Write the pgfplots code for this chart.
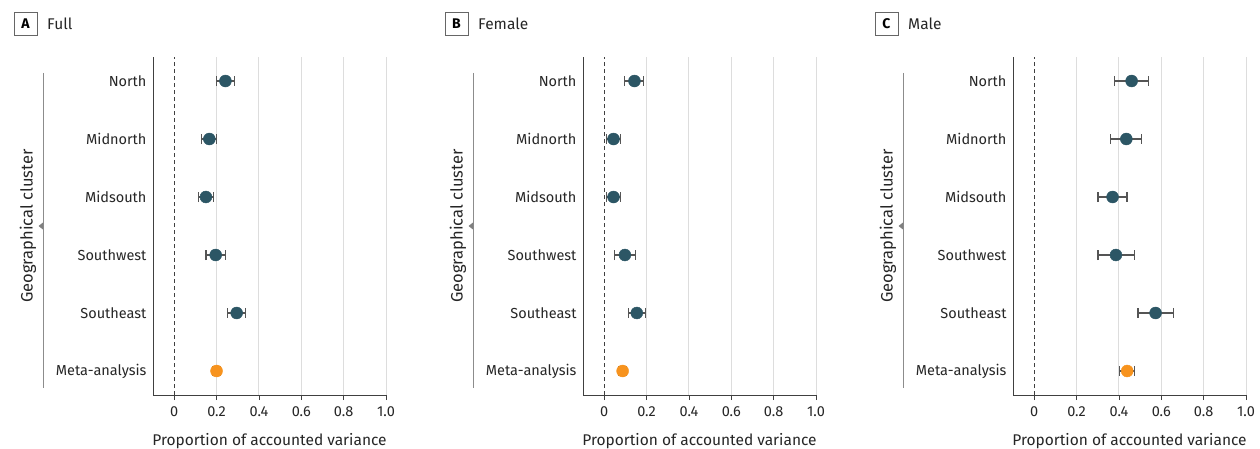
\documentclass[border=0pt]{standalone}
\usepackage{fontspec}
\setmainfont{Fira Sans}
\usepackage{pgfplots}
\usepackage{pgfplotstable}
\pgfplotsset{compat=1.18}
\definecolor{teal}{HTML}{2C5665}
\definecolor{orng}{HTML}{F7931E}
\definecolor{ebar}{HTML}{555555}
\definecolor{gridc}{HTML}{DDDDDD}

% y: North=5 ... Meta-analysis=0 ; x = estimate, lo/hi = interval
\pgfplotstableread{
y x lo hi
5 0.242 0.200 0.286
4 0.166 0.130 0.200
3 0.150 0.115 0.185
2 0.196 0.150 0.243
1 0.295 0.253 0.336
}\fullreg
\pgfplotstableread{
y x lo hi
0 0.200 0.183 0.220
}\fullmeta
\pgfplotstableread{
y x lo hi
5 0.143 0.096 0.187
4 0.044 0.011 0.079
3 0.044 0.009 0.079
2 0.098 0.049 0.148
1 0.154 0.115 0.195
}\femreg
\pgfplotstableread{
y x lo hi
0 0.087 0.069 0.105
}\femmeta
\pgfplotstableread{
y x lo hi
5 0.460 0.381 0.540
4 0.435 0.361 0.507
3 0.370 0.301 0.438
2 0.386 0.301 0.474
1 0.573 0.490 0.657
}\malereg
\pgfplotstableread{
y x lo hi
0 0.439 0.403 0.474
}\malemeta

\pgfplotsset{
  panel/.style={
    anchor=south west, scale only axis, width=233pt, height=338pt,
    xmin=-0.1, xmax=1.0, ymin=-0.414, ymax=5.414,
    axis x line*=bottom, axis y line*=left,
    axis line style={black!75, line width=0.8pt},
    xtick={0,0.2,0.4,0.6,0.8,1.0},
    xticklabels={0,0.2,0.4,0.6,0.8,1.0},
    minor xtick={0.2,0.4,0.6,0.8,1.0},
    xminorgrids, minor grid style={gridc, line width=1pt},
    minor tick length=0pt,
    ytick={0,1,2,3,4,5},
    yticklabels={Meta-analysis,Southeast,Southwest,Midsouth,Midnorth,North},
    major y tick style={draw=none},
    major x tick style={black!75, line width=0.8pt},
    tick align=outside, major tick length=5pt,
    ticklabel style={font=\fontsize{14.5}{17}\selectfont, text=black!85},
    yticklabel style={xshift=2pt},
    xticklabel style={yshift=-3pt},
    /pgf/number format/assume math mode=true,
    xlabel={Proportion of accounted variance},
    xlabel style={font=\fontsize{15.5}{18}\selectfont, text=black!85, yshift=-10pt},
    clip=false,
  },
  pts/.style={only marks, mark=*, mark size=6pt,
    mark options={fill=#1, draw=#1},
    error bars/.cd, x dir=both, x explicit,
    error bar style={ebar, line width=1.1pt},
    error mark=-,
    error mark options={ebar, line width=1.1pt, mark size=5pt, rotate=90}},
}

\newcommand{\panelplots}[2]{%
  \draw[black!75, line width=0.8pt, dash pattern=on 4pt off 3pt] (axis cs:0,-0.414) -- (axis cs:0,5.414);
  \addplot[pts=teal] table[x=x, y=y, x error plus expr=\thisrow{hi}-\thisrow{x}, x error minus expr=\thisrow{x}-\thisrow{lo}] {#1};
  \addplot[pts=orng] table[x=x, y=y, x error plus expr=\thisrow{hi}-\thisrow{x}, x error minus expr=\thisrow{x}-\thisrow{lo}] {#2};
}

\newcommand{\sidelabel}[1]{%
  \node[rotate=90, font=\fontsize{16.5}{19}\selectfont, text=black!85] at (#1,222) {Geographical cluster};
  \draw[black!45, line width=0.8pt] (#1+15,375) -- (#1+15,60);
  \fill[black!50] (#1+10.5,222) -- (#1+15,225.5) -- (#1+15,218.5) -- cycle;
}

\newcommand{\paneltitle}[3]{%
  \node[draw=black!60, line width=0.8pt, minimum width=23pt, minimum height=23pt, inner sep=0pt,
        font=\fontsize{14}{16}\selectfont\bfseries] at (#1,424.5) {#2};
  \node[anchor=west, inner sep=0pt, font=\fontsize{15.5}{18}\selectfont, text=black!85] at (#1+21.5,424.5) {#3};
}

\begin{document}
\begin{tikzpicture}[x=1pt,y=1pt]
\useasboundingbox (0,0) rectangle (1260,448);

\paneltitle{25.5}{A}{Full}
\paneltitle{456.5}{B}{Female}
\paneltitle{886.5}{C}{Male}

\sidelabel{28}
\sidelabel{458}
\sidelabel{888}

\begin{axis}[panel, at={(153pt,53pt)}]
\panelplots{\fullreg}{\fullmeta}
\end{axis}

\begin{axis}[panel, at={(583pt,53pt)}]
\panelplots{\femreg}{\femmeta}
\end{axis}

\begin{axis}[panel, at={(1013pt,53pt)}]
\panelplots{\malereg}{\malemeta}
\end{axis}
\end{tikzpicture}
\end{document}
